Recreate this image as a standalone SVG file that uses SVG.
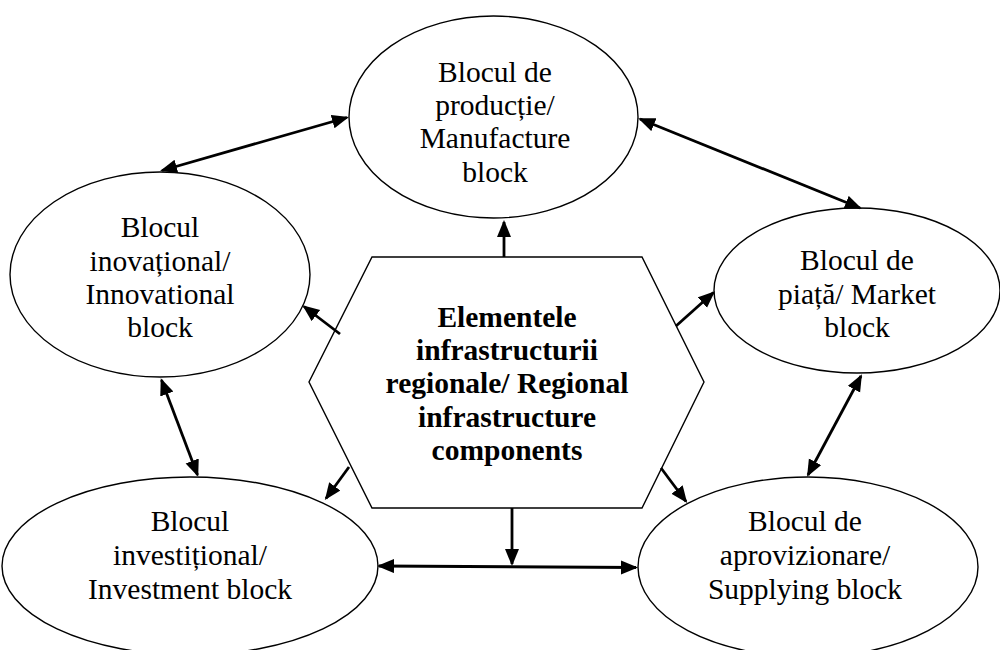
<svg xmlns="http://www.w3.org/2000/svg" width="1000" height="650" viewBox="0 0 1000 650">
<style>
.node{fill:#fff;stroke:#000;stroke-width:1.4}
.lbl{font-family:"Liberation Serif","Times New Roman",serif;font-size:29.5px;text-anchor:middle;fill:#000}
.bold{font-weight:bold}
.conn{stroke:#000;stroke-width:2.8;fill:none}
</style>
<defs>
<marker id="ah" markerUnits="userSpaceOnUse" markerWidth="18" markerHeight="15" refX="15" refY="7" orient="auto-start-reverse" viewBox="0 0 18 15">
<path d="M0,0 L17,7 L0,14 z" fill="#000"/>
</marker>
</defs>
<rect width="1000" height="650" fill="#fff"/>
<g id="manufacture">
<ellipse class="node" cx="493.5" cy="117" rx="144.5" ry="101"/>
<text class="lbl" x="495" y="82">Blocul de</text>
<text class="lbl" x="495" y="115">producție/</text>
<text class="lbl" x="495" y="148">Manufacture</text>
<text class="lbl" x="495" y="182">block</text>
</g>
<g id="innovational">
<ellipse class="node" cx="160" cy="274.5" rx="150" ry="102.5"/>
<text class="lbl" x="160" y="237">Blocul</text>
<text class="lbl" x="160" y="271">inovațional/</text>
<text class="lbl" x="160" y="304">Innovational</text>
<text class="lbl" x="160" y="337">block</text>
</g>
<g id="market">
<ellipse class="node" cx="857" cy="290.5" rx="143" ry="82.5"/>
<text class="lbl" x="857" y="270">Blocul de</text>
<text class="lbl" x="857" y="304">piață/ Market</text>
<text class="lbl" x="857" y="337">block</text>
</g>
<g id="investment">
<ellipse class="node" cx="190" cy="566" rx="188" ry="89"/>
<text class="lbl" x="190" y="531">Blocul</text>
<text class="lbl" x="190" y="565">investițional/</text>
<text class="lbl" x="190" y="599">Investment block</text>
</g>
<g id="supplying">
<ellipse class="node" cx="808" cy="567" rx="170" ry="90"/>
<text class="lbl" x="805" y="531">Blocul de</text>
<text class="lbl" x="805" y="565">aprovizionare/</text>
<text class="lbl" x="805" y="599">Supplying block</text>
</g>
<g id="regional">
<polygon class="node" points="372,257 642,257 704,382 642,508 372,508 309,382"/>
<text class="lbl bold" x="507" y="327">Elementele</text>
<text class="lbl bold" x="507" y="360">infrastructurii</text>
<text class="lbl bold" x="507" y="393">regionale/ Regional</text>
<text class="lbl bold" x="507" y="427">infrastructure</text>
<text class="lbl bold" x="507" y="460">components</text>
</g>
<g id="connectors">
<line class="conn" x1="162" y1="170.5" x2="347" y2="117.5" marker-start="url(#ah)" marker-end="url(#ah)"/>
<line class="conn" x1="640" y1="119" x2="860" y2="208" marker-start="url(#ah)" marker-end="url(#ah)"/>
<line class="conn" x1="504" y1="257" x2="504" y2="222" marker-end="url(#ah)"/>
<line class="conn" x1="340" y1="334" x2="304" y2="306.5" marker-end="url(#ah)"/>
<line class="conn" x1="676" y1="326" x2="713.5" y2="292.5" marker-end="url(#ah)"/>
<line class="conn" x1="161.5" y1="380" x2="197.5" y2="475" marker-start="url(#ah)" marker-end="url(#ah)"/>
<line class="conn" x1="349" y1="467" x2="326" y2="498.5" marker-end="url(#ah)"/>
<line class="conn" x1="661" y1="468" x2="686" y2="501.5" marker-end="url(#ah)"/>
<line class="conn" x1="512" y1="508" x2="512" y2="564" marker-end="url(#ah)"/>
<line class="conn" x1="379" y1="566" x2="636" y2="567.5" marker-start="url(#ah)" marker-end="url(#ah)"/>
<line class="conn" x1="861" y1="376" x2="808" y2="475" marker-start="url(#ah)" marker-end="url(#ah)"/>
</g>
</svg>
